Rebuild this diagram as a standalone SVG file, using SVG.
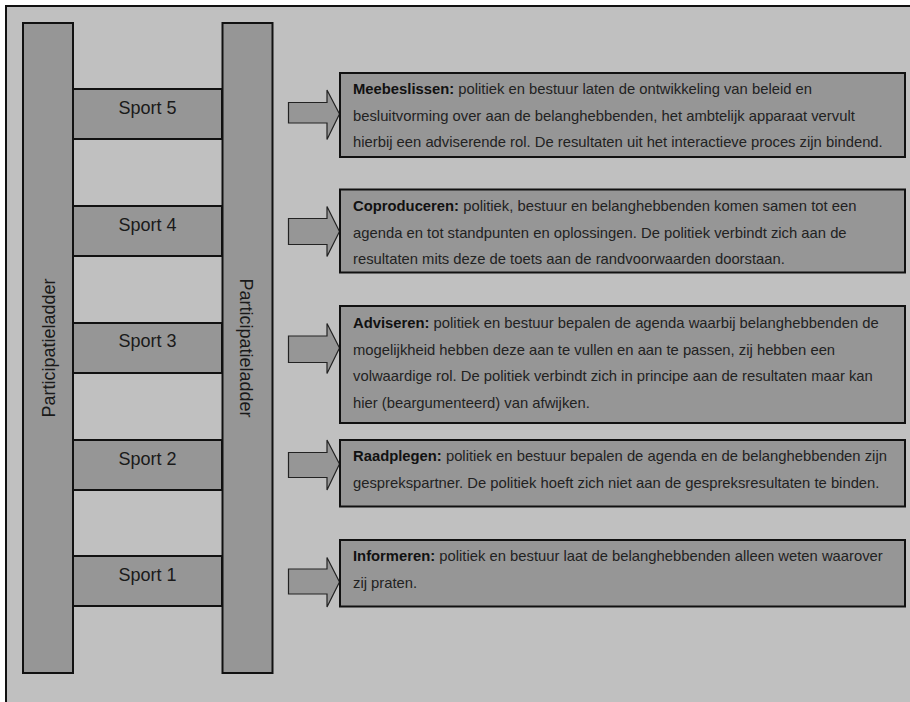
<svg xmlns="http://www.w3.org/2000/svg" width="910" height="702" viewBox="0 0 910 702">
<style>
.bar{fill:#969696;stroke:#111;stroke-width:2}
.box{fill:#969696;stroke:#111;stroke-width:2}
.arr{fill:#969696;stroke:#222;stroke-width:1.2;stroke-linejoin:miter}
.lbl{font-family:"Liberation Sans",Arial,sans-serif;font-size:18px;fill:#1a1a1a}
.txt{font-family:"Liberation Sans",Arial,sans-serif;font-size:14.8px;fill:#222}
.b{font-weight:bold;fill:#111}
</style>
<rect x="0" y="0" width="910" height="702" fill="#ffffff"/>
<rect x="6" y="6" width="930" height="720" fill="#c0c0c0" stroke="#111" stroke-width="2"/>

<g id="rungs">
<g id="sport5"><rect class="bar" x="73" y="89" width="149" height="50"/><text class="lbl" x="147.5" y="114" text-anchor="middle">Sport 5</text></g>
<g id="sport4"><rect class="bar" x="73" y="206" width="149" height="50"/><text class="lbl" x="147.5" y="231" text-anchor="middle">Sport 4</text></g>
<g id="sport3"><rect class="bar" x="73" y="323" width="149" height="50"/><text class="lbl" x="147.5" y="347" text-anchor="middle">Sport 3</text></g>
<g id="sport2"><rect class="bar" x="73" y="440" width="149" height="50"/><text class="lbl" x="147.5" y="465" text-anchor="middle">Sport 2</text></g>
<g id="sport1"><rect class="bar" x="73" y="556" width="149" height="50"/><text class="lbl" x="147.5" y="581" text-anchor="middle">Sport 1</text></g>
</g>

<g id="rail-left"><rect class="bar" x="23" y="23" width="50" height="650"/><text class="lbl" transform="translate(55,348) rotate(-90)" text-anchor="middle">Participatieladder</text></g>
<g id="rail-right"><rect class="bar" x="222.5" y="23" width="50" height="650"/><text class="lbl" transform="translate(240,348) rotate(90)" text-anchor="middle">Participatieladder</text></g>

<g id="connectors">
<polygon class="arr" points="288.5,102.5 327,102.5 327,90 339.5,114 327,139.5 327,123 288.5,123"/>
<polygon class="arr" points="288.5,218.5 327,218.5 327,206.5 339.5,231.5 327,256.5 327,244.5 288.5,244.5"/>
<polygon class="arr" points="288.5,336 327,336 327,323.5 339.5,348 327,373.5 327,362.5 288.5,362.5"/>
<polygon class="arr" points="288.5,452.5 327,452.5 327,440 339.5,464 327,490 327,477.5 288.5,477.5"/>
<polygon class="arr" points="288.5,569 327,569 327,557.5 339.5,582 327,607 327,594 288.5,594"/>
</g>

<g id="box-meebeslissen"><rect class="box" x="340" y="73" width="565" height="84"/>
<text class="txt" x="353" y="94"><tspan class="b">Meebeslissen:</tspan> politiek en bestuur laten de ontwikkeling van beleid en</text>
<text class="txt" x="353" y="120.5">besluitvorming over aan de belanghebbenden, het ambtelijk apparaat vervult</text>
<text class="txt" x="353" y="147">hierbij een adviserende rol. De resultaten uit het interactieve proces zijn bindend.</text>
</g>
<g id="box-coproduceren"><rect class="box" x="340" y="189.5" width="565" height="83"/>
<text class="txt" x="353" y="211"><tspan class="b">Coproduceren:</tspan> politiek, bestuur en belanghebbenden komen samen tot een</text>
<text class="txt" x="353" y="237.5">agenda en tot standpunten en oplossingen. De politiek verbindt zich aan de</text>
<text class="txt" x="353" y="264">resultaten mits deze de toets aan de randvoorwaarden doorstaan.</text>
</g>
<g id="box-adviseren"><rect class="box" x="340" y="306" width="565" height="117"/>
<text class="txt" x="353" y="328"><tspan class="b">Adviseren:</tspan> politiek en bestuur bepalen de agenda waarbij belanghebbenden de</text>
<text class="txt" x="353" y="354.5">mogelijkheid hebben deze aan te vullen en aan te passen, zij hebben een</text>
<text class="txt" x="353" y="381">volwaardige rol. De politiek verbindt zich in principe aan de resultaten maar kan</text>
<text class="txt" x="353" y="407.5">hier (beargumenteerd) van afwijken.</text>
</g>
<g id="box-raadplegen"><rect class="box" x="340" y="440" width="565" height="66.5"/>
<text class="txt" x="353" y="461"><tspan class="b">Raadplegen:</tspan> politiek en bestuur bepalen de agenda en de belanghebbenden zijn</text>
<text class="txt" x="353" y="487.5">gesprekspartner. De politiek hoeft zich niet aan de gespreksresultaten te binden.</text>
</g>
<g id="box-informeren"><rect class="box" x="340" y="540" width="565" height="66.5"/>
<text class="txt" x="353" y="561"><tspan class="b">Informeren:</tspan> politiek en bestuur laat de belanghebbenden alleen weten waarover</text>
<text class="txt" x="353" y="587.5">zij praten.</text>
</g>
</svg>
